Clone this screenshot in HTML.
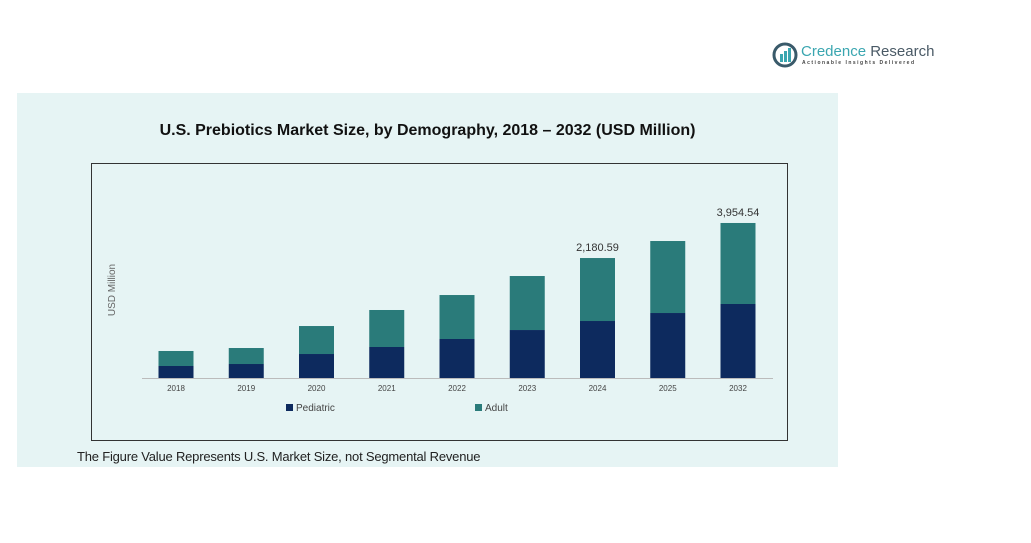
<!DOCTYPE html>
<html><head><meta charset="utf-8"><style>
body{margin:0;width:1031px;height:543px;background:#fff;font-family:"Liberation Sans",sans-serif;position:relative;overflow:hidden}
</style></head><body>
<div style="position:absolute;left:772px;top:42px;width:170px;height:30px">
<svg width="26" height="26" style="position:absolute;left:0;top:0"><circle cx="13" cy="13" r="11" fill="none" stroke="#3a5a6a" stroke-width="3"/><rect x="8" y="12" width="3" height="8" fill="#3aa6b0"/><rect x="12" y="9" width="3" height="11" fill="#3aa6b0"/><rect x="16" y="6" width="3" height="14" fill="#3aa6b0"/></svg>
<div style="position:absolute;left:29px;top:1px;font-size:15px;color:#3aa6b0;white-space:nowrap">Credence <span style="color:#4a5a66">Research</span></div>
<div style="position:absolute;left:30px;top:18px;font-size:5px;letter-spacing:1.5px;color:#444;font-weight:bold;white-space:nowrap">Actionable Insights Delivered</div>
</div>
<div style="position:absolute;left:17px;top:93px;width:821px;height:374px;background:#e6f4f4"></div>
<div style="position:absolute;left:0;width:855px;top:122px;text-align:center;font-size:16px;font-weight:bold;color:#111">U.S. Prebiotics Market Size, by Demography, 2018 – 2032 (USD Million)</div>
<div style="position:absolute;left:77px;top:449px;font-size:13px;letter-spacing:-0.2px;color:#222">The Figure Value Represents U.S. Market Size, not Segmental Revenue</div>
<svg id="chart" width="1031" height="543" style="position:absolute;left:0;top:0">
<rect x="91.5" y="163.5" width="696" height="277" fill="none" stroke="#333" stroke-width="1"/>
<text transform="translate(115,290) rotate(-90)" text-anchor="middle" font-size="10" fill="#666" font-family="Liberation Sans">USD Million</text>
<line x1="142" x2="773" y1="378.5" y2="378.5" stroke="#bbb"/>
<rect x="286" y="404" width="7" height="7" fill="#0d2a5e"/>
<text x="296" y="411" font-size="10" fill="#444" font-family="Liberation Sans">Pediatric</text>
<rect x="475" y="404" width="7" height="7" fill="#2a7b7a"/>
<text x="485" y="411" font-size="10" fill="#444" font-family="Liberation Sans">Adult</text>
</svg>
<script>
const categories=["2018","2019","2020","2021","2022","2023","2024","2025","2032"];
const pediatric=[306,357,612,791,995,1224,1454,1658,1888];
const adult=[383,408,714,944,1122,1378,1607,1837,2067];
const totalLabels=["","","","","","","2,180.59","","3,954.54"];
const svg=document.getElementById('chart');
const NS='http://www.w3.org/2000/svg';
const base=378,x0=176,step=70.25,bw=35;
const y=v=>v*155/3954.54;
const xc=i=>x0+i*step;
function mk(t,a){const e=document.createElementNS(NS,t);for(const k in a)e.setAttribute(k,a[k]);svg.appendChild(e);return e;}
categories.forEach((c,i)=>{
 const hp=y(pediatric[i]),ha=y(adult[i]);
 const p=mk('rect',{x:xc(i)-bw/2,y:base-hp,width:bw,height:hp,fill:'#0d2a5e'});
 
 
 const a=mk('rect',{x:xc(i)-bw/2,y:base-hp-ha,width:bw,height:ha,fill:'#2a7b7a'});
 
 
 const t=mk('text',{x:xc(i),y:391,'text-anchor':'middle','font-size':8,fill:'#444','font-family':'Liberation Sans'});
 t.textContent=c;
 
 
 if(totalLabels[i]){
  const l=mk('text',{x:xc(i),y:base-hp-ha-7,'text-anchor':'middle','font-size':11,fill:'#333','font-family':'Liberation Sans'});
  l.textContent=totalLabels[i];
  
  
 }
});
</script>
</body></html>
